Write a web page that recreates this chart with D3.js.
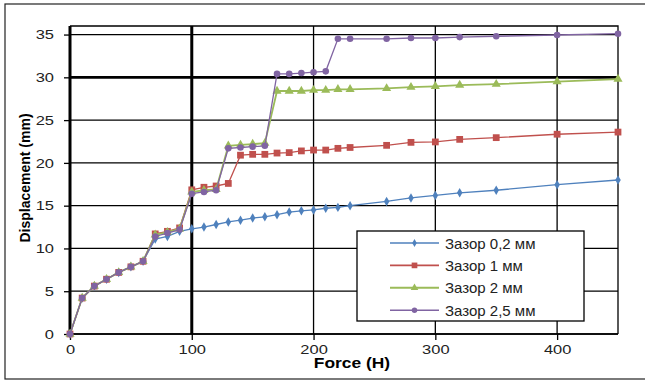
<!DOCTYPE html>
<html>
<head>
<meta charset="utf-8">
<script src="https://cdn.jsdelivr.net/npm/d3@7"></script>
<style>
  body { margin: 0; background: #fff; }
  svg { display: block; font-family: "Liberation Sans", Arial, sans-serif; }
</style>
</head>
<body>
<svg id="chart"></svg>
<script>
// data
var force = [0, 10, 20, 30, 40, 50, 60, 70, 80, 90, 100, 110, 120, 130, 140, 150, 160, 170, 180, 190, 200, 210, 220, 230, 260, 280, 300, 320, 350, 400, 450];
var gap02 = [0, 4.2, 5.6, 6.4, 7.2, 7.85, 8.5, 11.1, 11.4, 12.0, 12.3, 12.5, 12.8, 13.1, 13.3, 13.55, 13.7, 13.95, 14.25, 14.4, 14.5, 14.7, 14.8, 15.0, 15.5, 15.9, 16.2, 16.5, 16.8, 17.45, 18.0];
var gap1 = [0, 4.2, 5.6, 6.4, 7.2, 7.85, 8.5, 11.7, 12.0, 12.4, 16.85, 17.15, 17.3, 17.6, 20.9, 21.0, 21.0, 21.15, 21.2, 21.4, 21.5, 21.5, 21.7, 21.8, 22.05, 22.4, 22.45, 22.75, 22.95, 23.35, 23.6];
var gap2 = [0, 4.2, 5.6, 6.4, 7.2, 7.85, 8.5, 11.6, 11.9, 12.3, 16.6, 16.8, 16.9, 22.0, 22.1, 22.2, 22.3, 28.4, 28.4, 28.4, 28.5, 28.5, 28.6, 28.6, 28.7, 28.85, 28.95, 29.1, 29.2, 29.5, 29.8];
var gap25 = [0, 4.2, 5.6, 6.4, 7.2, 7.85, 8.5, 11.4, 11.8, 12.2, 16.4, 16.6, 16.8, 21.7, 21.8, 21.9, 22.0, 30.4, 30.4, 30.5, 30.6, 30.7, 34.5, 34.5, 34.5, 34.6, 34.6, 34.7, 34.8, 34.95, 35.1];
var seriesNames = ["Зазор 0,2 мм", "Зазор 1 мм", "Зазор 2 мм", "Зазор 2,5 мм"];
var xTicks = [0, 100, 200, 300, 400];
var yTicks = [0, 5, 10, 15, 20, 25, 30, 35];

var svgWidth = 645, svgHeight = 381;
var plotLeft = 70, plotRight = 618, plotTop = 26, plotBottom = 334;
var stretch = 1.22; // tick labels in the picture are a bit wide

var colors = ["#4F81BD", "#C0504D", "#9BBB59", "#8064A2"];
var shapes = [d3.symbolDiamond, d3.symbolSquare, d3.symbolTriangle, d3.symbolCircle];
var sizes = [26, 46, 36, 34];
var widths = [1.3, 1.3, 1.8, 1.3];

var svg = d3.select('#chart')
            .attr("width", svgWidth)
            .attr("height", svgHeight);

// outer frame
svg.append("rect")
   .attr("x", 5).attr("y", 4)
   .attr("width", 660).attr("height", 375)
   .attr("fill", "none").attr("stroke", "#222").attr("stroke-width", 1.2);

var xScale = d3.scaleLinear().domain([0, 450]).range([plotLeft, plotRight]);
var yScale = d3.scaleLinear().domain([0, 36]).range([plotBottom, plotTop]);

// grid
svg.append("g").selectAll("line")
   .data(yTicks)
   .enter()
   .append("line")
   .attr("x1", plotLeft).attr("x2", plotRight)
   .attr("y1", function(d) { return yScale(d); })
   .attr("y2", function(d) { return yScale(d); })
   .attr("stroke", "#000")
   .attr("stroke-width", function(d) { return d == 30 ? 2.6 : 1.3; });

svg.append("g").selectAll("line")
   .data(xTicks)
   .enter()
   .append("line")
   .attr("x1", function(d) { return xScale(d); })
   .attr("x2", function(d) { return xScale(d); })
   .attr("y1", plotTop).attr("y2", plotBottom)
   .attr("stroke", "#000")
   .attr("stroke-width", function(d) { return (d == 0 || d == 100) ? 3 : 1.3; });

// plot border top/right
svg.append("path")
   .attr("d", "M" + plotLeft + "," + plotTop + "H" + plotRight + "V" + plotBottom)
   .attr("fill", "none").attr("stroke", "#000").attr("stroke-width", 1.3);

// axes
var xAxis = d3.axisBottom(xScale).tickValues(xTicks).tickSize(6).tickPadding(4).tickSizeOuter(0);
var yAxis = d3.axisLeft(yScale).tickValues(yTicks).tickSize(6).tickPadding(10).tickSizeOuter(0);

var gx = svg.append("g").attr("transform", "translate(0," + plotBottom + ")").call(xAxis);
var gy = svg.append("g").attr("transform", "translate(" + plotLeft + ",0)").call(yAxis);
[gx, gy].forEach(function(g) {
    g.select(".domain").remove();
    g.selectAll(".tick line").attr("stroke", "#000").attr("stroke-width", 1.3);
    g.selectAll(".tick text")
     .attr("fill", "#222")
     .attr("x", function() { return (+d3.select(this).attr("x") || 0) / stretch; })
     .attr("transform", "scale(" + stretch + ",1)")
     .style("font-size", "13.5px")
     .style("font-family", "Liberation Sans, Arial, sans-serif");
});
svg.append("line")
   .attr("x1", plotLeft).attr("x2", plotRight)
   .attr("y1", plotBottom).attr("y2", plotBottom)
   .attr("stroke", "#000").attr("stroke-width", 1.3);

// axis titles
svg.append("text")
   .text("Force (H)")
   .attr("transform", "translate(352,368) scale(1.2,1)")
   .attr("text-anchor", "middle")
   .style("font-size", "14.5px").style("font-weight", "bold");

svg.append("text")
   .text("Displacement (mm)")
   .attr("transform", "translate(30,178) rotate(-90)")
   .attr("text-anchor", "middle")
   .style("font-size", "14px").style("font-weight", "bold");

// series
var allSeries = [gap02, gap1, gap2, gap25];
var line = d3.line()
             .x(function(d, i) { return xScale(force[i]); })
             .y(function(d) { return yScale(d); });

allSeries.forEach(function(values, s) {
    svg.append("path")
       .datum(values)
       .attr("d", line)
       .attr("fill", "none")
       .attr("stroke", colors[s])
       .attr("stroke-width", widths[s]);
    svg.append("g").selectAll("path")
       .data(values)
       .enter()
       .append("path")
       .attr("d", d3.symbol().type(shapes[s]).size(sizes[s]))
       .attr("transform", function(d, i) {
           return "translate(" + xScale(force[i]) + "," + yScale(d) + ")";
       })
       .attr("fill", colors[s]);
});

// legend
var legend = svg.append("g");
legend.append("rect")
      .attr("x", 357).attr("y", 231)
      .attr("width", 227).attr("height", 90)
      .attr("fill", "#fff").attr("stroke", "#000").attr("stroke-width", 1.3);

var items = legend.selectAll("g.item")
                  .data(seriesNames)
                  .enter()
                  .append("g")
                  .attr("class", "item")
                  .attr("transform", function(d, i) { return "translate(0," + (243 + i * 22.4) + ")"; });
items.append("line")
     .attr("x1", 390).attr("x2", 439)
     .attr("stroke", function(d, i) { return colors[i]; })
     .attr("stroke-width", function(d, i) { return widths[i] + 0.3; });
items.append("path")
     .attr("d", function(d, i) { return d3.symbol().type(shapes[i]).size(sizes[i] * 0.7)(); })
     .attr("transform", "translate(414.5,0)")
     .attr("fill", function(d, i) { return colors[i]; });
items.append("text")
     .text(function(d) { return d; })
     .attr("x", 445).attr("y", 5.5)
     .attr("fill", "#222")
     .style("font-size", "15px");
</script>
</body>
</html>
